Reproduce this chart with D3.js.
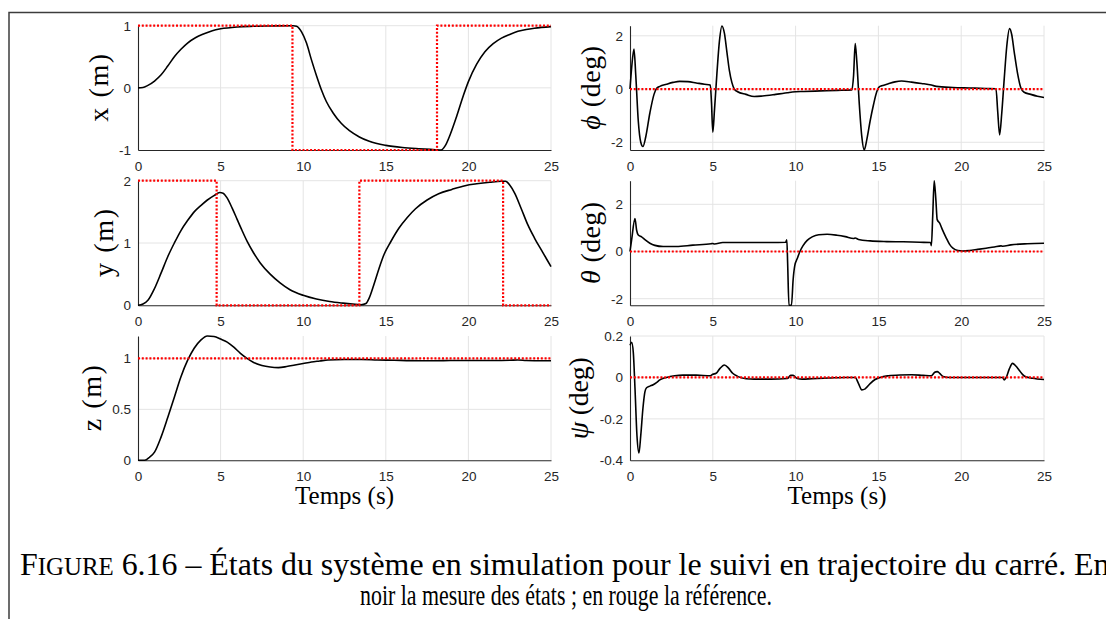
<!DOCTYPE html>
<html><head><meta charset="utf-8">
<script src="https://cdn.jsdelivr.net/npm/d3@7"></script>
<style>body{margin:0;background:#fff}</style>
</head><body>
<svg id="c" width="1106" height="619"></svg>
<script>
// ---------- data ----------
const timeTicks = [0, 5, 10, 15, 20, 25];

const xTicks = [-1, 0, 1];
const yTicks = [0, 1, 2];
const zTicks = [0, 0.5, 1];
const phiTicks = [-2, 0, 2];
const thetaTicks = [-2, 0, 2];
const psiTicks = [-0.4, -0.2, 0, 0.2];

const xMeas = [[0,0],[0.3,0.005],[0.6,0.04],[1.0,0.11],[1.4,0.21],[1.8,0.35],[2.2,0.5],[2.6,0.62],[3.0,0.72],[3.5,0.81],[4.0,0.87],[4.5,0.92],[5.0,0.95],[6.0,0.98],[7.0,0.99],[8.0,0.995],[9.4,1.0],[9.6,0.99],[9.9,0.9],[10.2,0.72],[10.5,0.45],[10.8,0.2],[11.1,-0.03],[11.4,-0.22],[11.8,-0.4],[12.3,-0.57],[12.8,-0.69],[13.4,-0.79],[14.0,-0.86],[15.0,-0.925],[16.0,-0.96],[17.0,-0.98],[18.0,-0.995],[18.35,-1.0],[18.6,-0.93],[18.9,-0.75],[19.3,-0.45],[19.7,-0.12],[20.0,0.1],[20.5,0.38],[21.0,0.58],[21.5,0.71],[22.0,0.8],[22.5,0.86],[23.0,0.91],[23.5,0.94],[24.0,0.96],[25.0,0.985]];
const xRef = [[0,1],[9.35,-1],[18.1,1],[25,1]];

const yMeas = [[0,0],[0.3,0.02],[0.6,0.08],[1.0,0.27],[1.4,0.52],[1.8,0.78],[2.2,1.0],[2.6,1.2],[3.0,1.36],[3.4,1.5],[3.8,1.6],[4.2,1.69],[4.6,1.76],[4.95,1.81],[5.15,1.8],[5.4,1.72],[5.7,1.56],[6.0,1.38],[6.3,1.2],[6.6,1.03],[7.0,0.84],[7.4,0.68],[8.0,0.5],[8.6,0.36],[9.2,0.25],[10.0,0.16],[10.8,0.1],[11.6,0.06],[12.4,0.035],[13.0,0.02],[13.5,0.01],[13.8,0.03],[14.0,0.12],[14.3,0.35],[14.6,0.6],[14.9,0.82],[15.3,1.02],[15.8,1.24],[16.3,1.41],[16.8,1.55],[17.5,1.69],[18.2,1.79],[19.0,1.86],[19.8,1.92],[20.5,1.95],[21.3,1.975],[22.0,1.99],[22.25,1.99],[22.5,1.93],[22.8,1.8],[23.2,1.55],[23.6,1.29],[24.0,1.08],[24.5,0.85],[25.0,0.62]];
const yRef = [[0,2],[4.76,0],[13.4,2],[22.1,0],[25,0]];

const zMeas = [[0,0],[0.4,0.0],[0.7,0.03],[1.0,0.08],[1.4,0.23],[1.8,0.42],[2.2,0.62],[2.6,0.82],[3.0,0.98],[3.4,1.1],[3.8,1.18],[4.2,1.22],[4.6,1.215],[5.0,1.19],[5.4,1.16],[5.8,1.11],[6.2,1.05],[6.6,1.0],[7.0,0.96],[7.5,0.93],[8.0,0.915],[8.5,0.91],[9.0,0.92],[9.5,0.935],[10.0,0.95],[10.5,0.965],[11.0,0.975],[11.5,0.985],[12.5,0.99],[13.5,0.99],[14.5,0.985],[15.5,0.982],[16.5,0.978],[17.5,0.977],[18.5,0.978],[19.5,0.98],[20.5,0.98],[21.5,0.98],[22.5,0.982],[23.0,0.985],[23.5,0.98],[24.5,0.977],[25.0,0.977]];
const zRef = [[0,1],[25,1]];

const phiMeas = [[0,0],[0.1,0.8],[0.24,1.5],[0.35,0.5],[0.5,-1.2],[0.65,-2.0],[0.78,-2.16],[0.95,-1.8],[1.2,-0.9],[1.45,-0.2],[1.6,0.02],[1.8,0.1],[2.2,0.18],[2.6,0.25],[3.0,0.29],[3.5,0.28],[4.0,0.23],[4.5,0.18],[4.85,0.15],[4.92,-0.5],[5.0,-1.62],[5.1,-0.8],[5.25,0.6],[5.4,1.8],[5.55,2.37],[5.7,2.1],[5.85,1.4],[6.0,0.7],[6.15,0.25],[6.3,0.0],[6.5,-0.1],[7.0,-0.2],[7.5,-0.28],[8.0,-0.26],[8.8,-0.2],[9.5,-0.14],[9.8,-0.11],[10.5,-0.09],[11.5,-0.07],[12.5,-0.05],[13.4,-0.03],[13.5,0.5],[13.6,1.71],[13.7,1.0],[13.85,-0.6],[14.0,-1.8],[14.14,-2.29],[14.3,-1.9],[14.5,-1.2],[14.7,-0.6],[14.9,-0.1],[15.05,0.08],[15.2,0.12],[15.6,0.2],[16.0,0.27],[16.4,0.3],[17.0,0.26],[17.6,0.21],[18.2,0.15],[18.5,0.1],[19.5,0.06],[20.5,0.04],[21.5,0.02],[22.1,0.01],[22.2,-0.8],[22.32,-1.72],[22.45,-0.9],[22.6,0.4],[22.75,1.6],[22.92,2.27],[23.05,2.05],[23.2,1.4],[23.4,0.6],[23.6,0.05],[23.8,-0.12],[24.2,-0.2],[24.6,-0.27],[25.0,-0.32]];
const phiRef = [[0,0],[25,0]];

const thetaMeas = [[0,0],[0.1,0.5],[0.3,1.4],[0.4,0.9],[0.5,0.7],[0.7,0.62],[0.9,0.5],[1.2,0.35],[1.5,0.26],[2.0,0.21],[2.8,0.21],[3.8,0.27],[4.9,0.33],[5.0,0.34],[5.1,0.32],[5.6,0.38],[7.0,0.38],[8.5,0.38],[9.4,0.39],[9.47,0.5],[9.52,-0.5],[9.6,-2.28],[9.75,-2.28],[9.85,-1.2],[9.95,-0.6],[10.1,-0.3],[10.26,0.0],[10.45,0.25],[10.7,0.47],[11.0,0.62],[11.4,0.71],[11.9,0.73],[12.5,0.69],[13.0,0.63],[13.5,0.55],[13.6,0.57],[13.8,0.51],[14.5,0.45],[15.5,0.42],[16.5,0.41],[17.5,0.39],[18.15,0.38],[18.2,0.25],[18.28,1.5],[18.37,3.0],[18.47,2.2],[18.55,1.35],[18.7,1.2],[18.85,0.95],[19.1,0.57],[19.3,0.3],[19.5,0.14],[19.8,0.04],[20.1,0.02],[20.5,0.04],[21.0,0.09],[21.5,0.14],[22.0,0.19],[22.4,0.24],[22.5,0.22],[23.0,0.28],[24.0,0.33],[25.0,0.35]];
const thetaRef = [[0,0],[25,0]];

const psiMeas = [[0,0.155],[0.1,0.17],[0.2,0.12],[0.3,-0.05],[0.42,-0.28],[0.54,-0.365],[0.65,-0.28],[0.78,-0.15],[0.9,-0.07],[1.0,-0.05],[1.2,-0.042],[1.4,-0.035],[1.6,-0.025],[1.8,-0.012],[2.2,0.0],[2.7,0.008],[3.2,0.011],[4.0,0.011],[4.85,0.008],[5.0,0.015],[5.2,0.02],[5.4,0.04],[5.7,0.06],[5.95,0.045],[6.2,0.02],[6.5,0.005],[7.0,-0.006],[7.5,-0.008],[8.5,-0.008],[9.5,-0.005],[9.7,0.01],[9.85,0.01],[10.1,-0.005],[10.4,-0.008],[11.0,-0.006],[12.0,-0.003],[13.0,0.0],[13.6,0.0],[13.8,-0.03],[14.0,-0.06],[14.2,-0.055],[14.5,-0.03],[14.8,-0.01],[15.1,0.0],[15.6,0.008],[16.3,0.012],[17.0,0.013],[17.7,0.01],[18.2,0.008],[18.4,0.025],[18.55,0.028],[18.7,0.02],[18.9,0.005],[19.3,0.0],[20.0,0.0],[21.0,0.0],[22.5,0.0],[22.6,-0.012],[22.72,0.0],[22.9,0.04],[23.1,0.068],[23.3,0.055],[23.5,0.035],[23.7,0.015],[23.9,0.003],[24.3,-0.004],[25.0,-0.01]];
const psiRef = [[0,0],[25,0]];

const xLabel = "Temps (s)";
const captionLine1 = ["F", "IGURE", " 6.16 – États du système en simulation pour le suivi en trajectoire du carré. En"];
const captionLine2 = "noir la mesure des états ; en rouge la référence.";

// ---------- layout ----------
const W = 1106, H = 619;
const colX = [[138, 551], [630, 1044]];
const rowY = [[25.7, 150], [180.7, 305.3], [336, 460.3]];

const panels = [
  {col:0,row:0,domain:[-1,1],ticks:xTicks,meas:xMeas,ref:xRef,step:true,sym:"x",unit:"(m)",greek:false,xlab:false,len:68},
  {col:1,row:0,domain:[-2.29,2.38],ticks:phiTicks,meas:phiMeas,ref:phiRef,step:false,sym:"ϕ",unit:"(deg)",greek:true,xlab:false,len:84},
  {col:0,row:1,domain:[0,2],ticks:yTicks,meas:yMeas,ref:yRef,step:true,sym:"y",unit:"(m)",greek:false,xlab:false,len:68},
  {col:1,row:1,domain:[-2.28,3.0],ticks:thetaTicks,meas:thetaMeas,ref:thetaRef,step:false,sym:"θ",unit:"(deg)",greek:true,xlab:false,len:82},
  {col:0,row:2,domain:[0,1.22],ticks:zTicks,meas:zMeas,ref:zRef,step:false,sym:"z",unit:"(m)",greek:false,xlab:true,len:66},
  {col:1,row:2,domain:[-0.4,0.2],ticks:psiTicks,meas:psiMeas,ref:psiRef,step:false,sym:"ψ",unit:"(deg)",greek:true,xlab:true,len:82}
];

const svg = d3.select('#c');
svg.append('rect').attr('width', W).attr('height', H).attr('fill', '#fff');
svg.append('path').attr('d', `M9,${H} V12.5 H${W}`).attr('fill','none').attr('stroke','#3c3c3c').attr('stroke-width',1.5);

const defs = svg.append('defs');
const tickFont = "'Liberation Sans', Arial, Helvetica, sans-serif";
const serif = "'Liberation Serif', 'DejaVu Serif', serif";
const gridCol = '#e4e4e4', axCol = '#262626';

panels.forEach((p, i) => {
  const [x0, x1] = colX[p.col];
  const [y0, y1] = rowY[p.row];
  const xs = d3.scaleLinear().domain([0, 25]).range([x0, x1]);
  const ys = d3.scaleLinear().domain(p.domain).range([y1, y0]);
  const g = svg.append('g');

  defs.append('clipPath').attr('id', 'clip' + i)
    .append('rect').attr('x', x0 - 1).attr('y', y0 - 1.5).attr('width', x1 - x0 + 2).attr('height', y1 - y0 + 3);

  // grid
  g.append('g').selectAll('line').data(timeTicks.filter(d => d > 0)).join('line')
    .attr('x1', d => xs(d)).attr('x2', d => xs(d)).attr('y1', y0).attr('y2', y1)
    .attr('stroke', gridCol).attr('stroke-width', 1);
  g.append('g').selectAll('line').data(p.ticks.filter(d => d !== p.domain[0])).join('line')
    .attr('x1', x0).attr('x2', x1).attr('y1', d => ys(d)).attr('y2', d => ys(d))
    .attr('stroke', gridCol).attr('stroke-width', 1);

  // axes
  const fmt = d => String(d);
  const ax = g.append('g').attr('transform', `translate(0,${y1})`)
    .call(d3.axisBottom(xs).tickValues(timeTicks).tickSize(0).tickSizeOuter(0).tickPadding(11).tickFormat(fmt));
  const ay = g.append('g').attr('transform', `translate(${x0},0)`)
    .call(d3.axisLeft(ys).tickValues(p.ticks).tickSize(0).tickSizeOuter(0).tickPadding(7).tickFormat(fmt));
  [ax, ay].forEach(a => {
    a.select('.domain').attr('stroke', axCol).attr('stroke-width', 1.1);
    a.selectAll('text').attr('fill', axCol).style('font-family', tickFont).style('font-size', '13.5px');
  });

  // lines
  const line = d3.line().x(d => xs(d[0])).y(d => ys(d[1])).curve(d3.curveMonotoneX);
  g.append('path').datum(p.meas).attr('d', line).attr('clip-path', `url(#clip${i})`)
    .attr('fill', 'none').attr('stroke', '#000').attr('stroke-width', 1.6).attr('stroke-linejoin', 'round');
  const rline = d3.line().x(d => xs(d[0])).y(d => ys(d[1])).curve(p.step ? d3.curveStepAfter : d3.curveLinear);
  g.append('path').datum(p.ref).attr('d', rline)
    .attr('fill', 'none').attr('stroke', '#ff0000').attr('stroke-width', 2.2).attr('stroke-dasharray', '2,1.8');

  // y label
  let maxW = 0;
  ay.selectAll('text').each(function() { maxW = Math.max(maxW, this.getBBox().width); });
  const cx = x0 - 7 - maxW - 20, cy = (y0 + y1) / 2;
  const t = svg.append('text').attr('transform', `translate(${cx},${cy}) rotate(-90)`)
    .attr('text-anchor', 'middle').attr('dy', '0.33em')
    .style('font-family', serif).style('font-size', '28px').attr('fill', '#000')
    .attr('xml:space', 'preserve')
    .attr('textLength', p.len).attr('lengthAdjust', 'spacing');
  t.append('tspan').text(p.sym).style('font-style', p.greek ? 'italic' : 'normal');
  t.append('tspan').text(' ' + p.unit);

  if (p.xlab) {
    svg.append('text').attr('x', (x0 + x1) / 2).attr('y', 504).attr('text-anchor', 'middle')
      .style('font-family', serif).style('font-size', '25px').text(xLabel);
  }
});

// caption: first line sized to span the page width, last line centred
const baseSize = 25;
const c1 = svg.append('text').attr('x', 20).attr('y', 575)
  .style('font-family', serif).style('font-size', baseSize + 'px').attr('xml:space', 'preserve');
c1.append('tspan').text(captionLine1[0]);
const sc = c1.append('tspan').text(captionLine1[1]).style('font-size', (baseSize * 0.78) + 'px');
c1.append('tspan').text(captionLine1[2]);
const natural = c1.node().getComputedTextLength();
const capSize = baseSize * 1090 / natural;
c1.style('font-size', capSize + 'px');
sc.style('font-size', (capSize * 0.78) + 'px');
svg.append('text').attr('x', 566).attr('y', 605).attr('text-anchor', 'middle')
  .style('font-family', serif).style('font-size', (capSize * 0.93) + 'px')
  .attr('textLength', 412).attr('lengthAdjust', 'spacingAndGlyphs').text(captionLine2);
</script></body></html>
